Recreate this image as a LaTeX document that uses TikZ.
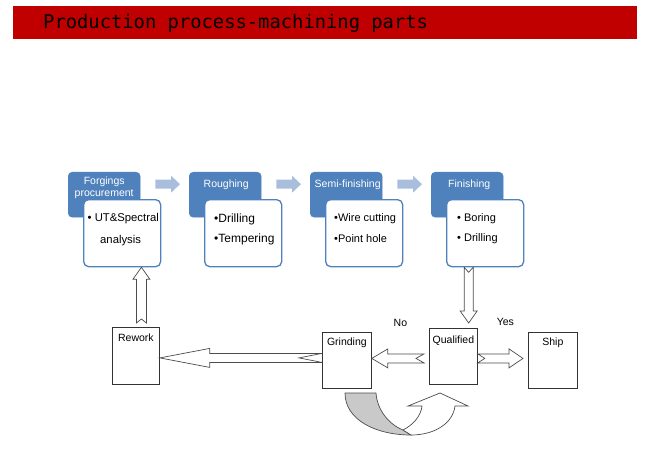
\documentclass[tikz,border=0pt]{standalone}
\usepackage{fontspec}
\setmainfont{Liberation Sans}
\newfontfamily\titlefont{DejaVu Sans Mono}
\usetikzlibrary{calc}
\definecolor{titlered}{HTML}{C00000}
\definecolor{officeblue}{HTML}{4F81BD}
\definecolor{lightarr}{HTML}{A9BEDC}
\definecolor{uturngray}{HTML}{C9C9C9}
% #1 style, #2 tail, #3 tip, #4 half shaft, #5 half head, #6 head length, #7 notch depth
\newcommand\blkarr[7][]{%
  \coordinate (ba-h) at ($(#3)!#6!(#2)$);
  \coordinate (ba-n) at ($(#2)!#7!(#3)$);
  \draw[#1] ($(#2)!#4!90:(#3)$) -- ($(ba-h)!#4!90:(#3)$) -- ($(ba-h)!#5!90:(#3)$)
    -- (#3) -- ($(ba-h)!#5!-90:(#3)$) -- ($(ba-h)!#4!-90:(#3)$)
    -- ($(#2)!#4!-90:(#3)$) -- (ba-n) -- cycle;
}
\begin{document}
\begin{tikzpicture}[x=1pt,y=-1pt,
  titlebar/.style={fill=titlered, anchor=north west, minimum width=624pt, minimum height=33pt, inner sep=0pt},
  darkbox/.style={fill=officeblue, draw=officeblue, rounded corners=4pt, minimum width=72pt, minimum height=45pt, anchor=north west, inner sep=0pt},
  whitebox/.style={fill=white, draw=officeblue, line width=1.3pt, rounded corners=5pt, minimum width=77pt, minimum height=67pt, anchor=north west, inner sep=0pt},
  dtxt/.style={text=white, font=\fontsize{10.5}{12}\selectfont, align=center, inner sep=0pt},
  wtxt/.style={font=\fontsize{11}{13}\selectfont, anchor=west, inner sep=0pt},
  wtxtbig/.style={wtxt, font=\fontsize{12}{14}\selectfont},
  procbox/.style={draw=black!80, line width=0.8pt, fill=white, anchor=north west, inner sep=0pt, minimum width=49pt, minimum height=56pt},
  btxt/.style={font=\fontsize{10.5}{12}\selectfont, inner sep=0pt},
  blk/.style={draw=black!70, fill=white, line width=0.7pt, line join=miter},
  flowarr/.style={fill=lightarr, draw=none},
]
\useasboundingbox (0,0) rectangle (650,457);

% title
\node[titlebar] (title) at (13,6) {};
\node[anchor=base west, inner sep=0pt, font=\titlefont\fontsize{18.8}{20}\selectfont] (titlet) at (43,29) {Production process-machining parts};

% process stage boxes
\node[darkbox] (d1) at (68,172) {};
\node[darkbox] (d2) at (189,172) {};
\node[darkbox] (d3) at (310,172) {};
\node[darkbox] (d4) at (431,172) {};
\node[dtxt] (t1) at ($(d1.north)+(0,16)$) {Forgings\\procurement};
\node[dtxt] (t2) at ($(d2.north)+(1,12.5)$) {Roughing};
\node[dtxt] (t3) at ($(d3.north)+(1.5,12.5)$) {Semi-finishing};
\node[dtxt] (t4) at ($(d4.north)+(2,12.5)$) {Finishing};

\node[whitebox] (w1) at (83,199) {};
\node[whitebox] (w2) at (204,199) {};
\node[whitebox] (w3) at (325,199) {};
\node[whitebox] (w4) at (446,199) {};
\node[wtxt, font=\fontsize{11.3}{13}\selectfont] (b1a) at ($(w1.north west)+(4.5,20)$) {• UT\&Spectral};
\node[wtxt, font=\fontsize{11.3}{13}\selectfont] (b1b) at ($(w1.north west)+(17,42)$) {analysis};
\node[wtxtbig] (b2a) at ($(w2.north west)+(10,20)$) {•Drilling};
\node[wtxtbig] (b2b) at ($(w2.north west)+(10,40)$) {•Tempering};
\node[wtxt] (b3a) at ($(w3.north west)+(9,20)$) {•Wire cutting};
\node[wtxt] (b3b) at ($(w3.north west)+(9,40)$) {•Point hole};
\node[wtxt] (b4a) at ($(w4.north west)+(11,19.5)$) {• Boring};
\node[wtxt] (b4b) at ($(w4.north west)+(11,39.5)$) {• Drilling};

% flow arrows between stages
\coordinate (f1s) at ($(d1.east)+(15,-10.5)$);
\coordinate (f1e) at ($(d2.west)+(-9,-10.5)$);
\coordinate (f2s) at ($(d2.east)+(15,-10.5)$);
\coordinate (f2e) at ($(d3.west)+(-9,-10.5)$);
\coordinate (f3s) at ($(d3.east)+(15,-10.5)$);
\coordinate (f3e) at ($(d4.west)+(-9,-10.5)$);
\blkarr[flowarr]{f1s}{f1e}{4.5pt}{8.5pt}{9pt}{0pt}
\blkarr[flowarr]{f2s}{f2e}{4.5pt}{8.5pt}{9pt}{0pt}
\blkarr[flowarr]{f3s}{f3e}{4.5pt}{8.5pt}{9pt}{0pt}

% lower boxes
\node[procbox, minimum width=47pt, minimum height=57pt] (rework) at (112,327) {};
\node[procbox] (grind) at (322,332) {};
\node[procbox, minimum width=48pt] (qual) at (429,328) {};
\node[procbox] (ship) at (528,332) {};
\node[btxt] (reworkt) at ($(rework.north)+(0,11)$) {Rework};
\node[btxt] (grindt) at ($(grind.north)+(0,10.5)$) {Grinding};
\node[btxt] (qualt) at ($(qual.north)+(0,12.5)$) {Qualified};
\node[btxt] (shipt) at ($(ship.north)+(0,10.5)$) {Ship};
\node[btxt] (no) at ($(grind.north east)!0.5!(qual.north west)+(0,-7)$) {No};
\node[btxt] (yes) at ($(qual.north east)!0.5!(ship.north west)+(2.5,-8)$) {Yes};

% block arrows
\coordinate (up-s) at ($(rework.north)+(5.5,-4)$);
\coordinate (up-e) at (w1.south -| up-s);
\blkarr[blk]{up-s}{up-e}{5pt}{8.5pt}{12pt}{4pt}

\coordinate (gr-s) at ($(grind.west)+(0,-2.5)$);
\coordinate (gr-e) at (rework.east |- gr-s);
\blkarr[blk]{gr-s}{gr-e}{4.5pt}{9.5pt}{50pt}{23pt}

\coordinate (qg-s) at ($(qual.west)+(-5,2)$);
\coordinate (qg-e) at (grind.east |- qg-s);
\blkarr[blk]{qg-s}{qg-e}{4.5pt}{9.5pt}{16pt}{8pt}

\coordinate (qs-s) at ($(qual.east)+(0,2)$);
\coordinate (qs-e) at ($(ship.west |- qs-s)+(-5,0)$);
\blkarr[blk]{qs-s}{qs-e}{4.5pt}{9.5pt}{14pt}{7pt}

\coordinate (fq-s) at ($(w4.south)+(-16.5,0)$);
\coordinate (fq-e) at ($(qual.north -| fq-s)+(0,-5)$);
\blkarr[blk]{fq-s}{fq-e}{4.5pt}{8.5pt}{12pt}{5pt}

% U-turn arrow back to grinding
\draw[blk, fill=uturngray] (345,393) -- (376,393) .. controls (377,409) and (388,424) .. (403,430)
  -- (411,435) .. controls (376,435) and (345,420) .. (345,393) -- cycle;
\draw[blk] (403,430) .. controls (413,425) and (421,416) .. (422,406) -- (408,406) -- (440,393)
  -- (468,406) -- (455,406) .. controls (453,423) and (435,435) .. (411,435) -- cycle;
\end{tikzpicture}
\end{document}
